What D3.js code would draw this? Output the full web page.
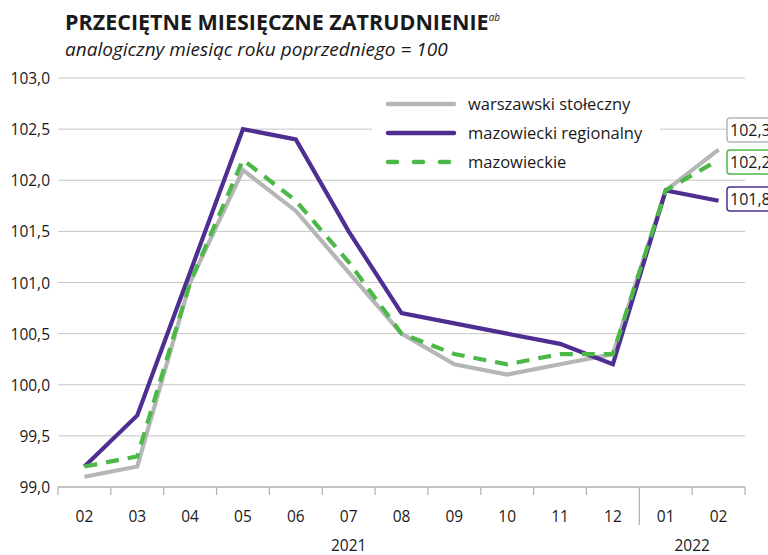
<!DOCTYPE html>
<html>
<head>
<meta charset="utf-8">
<script src="https://cdn.jsdelivr.net/npm/d3@7"></script>
<style>
  body { margin: 0; background: #fff; }
  svg { font-family: "Open Sans", "Noto Sans", sans-serif; }
</style>
</head>
<body>
<div id="chart"></div>
<script>
// Data
var months = ['02', '03', '04', '05', '06', '07', '08', '09', '10', '11', '12', '01', '02'];
var monthKeys = months.map((m, i) => i + ':' + m);
var years = [{ label: '2021', from: 0, to: 11 }, { label: '2022', from: 11, to: 13 }];
var warszawski = [99.1, 99.2, 101.0, 102.1, 101.7, 101.1, 100.5, 100.2, 100.1, 100.2, 100.3, 101.9, 102.3];
var regionalny = [99.2, 99.7, 101.1, 102.5, 102.4, 101.5, 100.7, 100.6, 100.5, 100.4, 100.2, 101.9, 101.8];
var mazowieckie = [99.2, 99.3, 101.0, 102.2, 101.8, 101.2, 100.5, 100.3, 100.2, 100.3, 100.3, 101.9, 102.2];
var yTicks = [99.0, 99.5, 100.0, 100.5, 101.0, 101.5, 102.0, 102.5, 103.0];

var series = [
  { name: 'warszawski stołeczny', values: warszawski, color: '#b5b7b6', dash: null, labelY: 130 },
  { name: 'mazowiecki regionalny', values: regionalny, color: '#4f2e92', dash: null, labelY: 199 },
  { name: 'mazowieckie', values: mazowieckie, color: '#4cb848', dash: '13,9', labelY: 162 },
];

var width = 768, height = 555;
var plot = { left: 58, right: 745, top: 78, bottom: 487 };

var svg = d3.select('#chart').append('svg').attr('width', width).attr('height', height);

var x = d3.scaleBand().domain(monthKeys).range([plot.left, plot.right]);
var y = d3.scaleLinear().domain([99, 103]).range([plot.bottom, plot.top]);
var fmt = (v) => d3.format('.1f')(v).replace('.', ',');

// Title
var title = svg.append('text').attr('x', 65).attr('y', 30)
  .style('font-size', '21.5px').style('font-weight', 700).attr('fill', '#1a1a1a')
  .text('PRZECIĘTNE MIESIĘCZNE ZATRUDNIENIE');
title.append('tspan').attr('dy', -9).style('font-size', '10px').style('font-weight', 400)
  .style('font-style', 'italic').text('ab');
svg.append('text').attr('x', 65).attr('y', 56)
  .style('font-size', '19px').style('font-style', 'italic').attr('fill', '#1a1a1a')
  .text('analogiczny miesiąc roku poprzedniego = 100');

// Gridlines
svg.append('g').selectAll('line').data(yTicks.slice(1)).join('line')
  .attr('x1', plot.left).attr('x2', plot.right)
  .attr('y1', (d) => y(d)).attr('y2', (d) => y(d))
  .attr('stroke', '#c6c6c6').attr('stroke-width', 1);

// Y axis labels
svg.append('g').selectAll('text').data(yTicks).join('text')
  .attr('x', 50).attr('y', (d) => y(d) + 6)
  .attr('text-anchor', 'end').style('font-size', '15.5px').attr('fill', '#1a1a1a')
  .text(fmt);

// X axis
var xAxis = svg.append('g');
xAxis.append('line').attr('x1', plot.left).attr('x2', plot.right)
  .attr('y1', plot.bottom).attr('y2', plot.bottom).attr('stroke', '#b0b0b0').attr('stroke-width', 1.3);
var bounds = monthKeys.map((k) => x(k)).concat([plot.right]);
xAxis.selectAll('line.tick').data(bounds).join('line').classed('tick', true)
  .attr('x1', (d) => d).attr('x2', (d) => d)
  .attr('y1', plot.bottom).attr('y2', (d, i) => (i === 11 ? 525 : plot.bottom + 8))
  .attr('stroke', '#b0b0b0').attr('stroke-width', 1.2);
xAxis.selectAll('text.month').data(monthKeys).join('text').classed('month', true)
  .attr('x', (d) => x(d) + x.bandwidth() / 2).attr('y', 522)
  .attr('text-anchor', 'middle').style('font-size', '15.5px').attr('fill', '#1a1a1a')
  .text((d, i) => months[i]);
xAxis.selectAll('text.year').data(years).join('text').classed('year', true)
  .attr('x', (d) => (x(monthKeys[d.from]) + (d.to < 13 ? x(monthKeys[d.to]) : plot.right)) / 2)
  .attr('y', 551).attr('text-anchor', 'middle').style('font-size', '15.5px').attr('fill', '#1a1a1a')
  .text((d) => d.label);

// Lines
var line = d3.line().x((d, i) => x(monthKeys[i]) + x.bandwidth() / 2).y((d) => y(d));
svg.append('g').selectAll('path').data(series).join('path')
  .attr('d', (d) => line(d.values))
  .attr('fill', 'none').attr('stroke', (d) => d.color).attr('stroke-width', 4.2)
  .attr('stroke-dasharray', (d) => d.dash).attr('stroke-linejoin', 'miter');

// Legend
var legend = svg.append('g');
legend.append('rect').attr('x', 372).attr('y', 86).attr('width', 288).attr('height', 92).attr('fill', '#fff');
var li = legend.selectAll('g').data(series).join('g')
  .attr('transform', (d, i) => `translate(388,${104 + i * 29})`);
li.append('line').attr('x1', 0).attr('x2', 66).attr('y1', 0).attr('y2', 0)
  .attr('stroke', (d) => d.color).attr('stroke-width', 4.5).attr('stroke-linecap', 'round')
  .attr('stroke-dasharray', (d) => (d.dash ? '9,17' : null));
li.append('text').attr('x', 80).attr('y', 6).style('font-size', '16.5px').attr('fill', '#1a1a1a')
  .text((d) => d.name);

// End labels (cut by the right edge, as in the reference)
var ends = svg.append('g').selectAll('g').data(series).join('g')
  .attr('transform', (d) => `translate(727,${d.labelY})`);
ends.append('rect').attr('x', 0).attr('y', -12).attr('width', 60).attr('height', 24).attr('rx', 3)
  .attr('fill', '#fff').attr('stroke', (d) => d.color).attr('stroke-width', 1.5);
ends.append('text').attr('x', 3).attr('y', 6).style('font-size', '16px').attr('fill', '#1a1a1a')
  .text((d) => fmt(d.values[d.values.length - 1]));
</script>
</body>
</html>
